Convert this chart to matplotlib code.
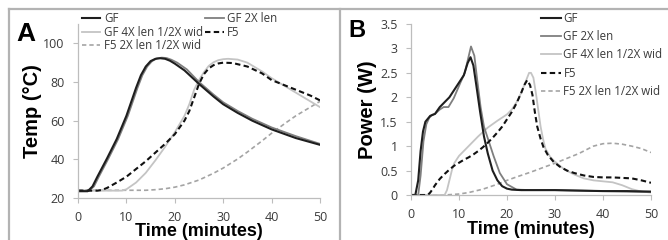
import matplotlib
matplotlib.use("Agg")
import matplotlib.pyplot as plt
from matplotlib import font_manager
from matplotlib.lines import Line2D

# ---------------- data ----------------
labels = ["GF", "GF 2X len", "GF 4X len 1/2X wid", "F5", "F5 2X len 1/2X wid"]

# panel A : temperature (degC) vs time (minutes)
a_gf_t = [0, 2, 3, 4, 6, 8, 10, 12, 13, 14, 15, 16, 17, 18, 19, 20, 22, 25, 28, 30, 33, 36, 40, 45, 50]
a_gf_y = [23.5, 23.5, 26, 31, 40.5, 50.5, 62.5, 77, 83.5, 88, 90.8, 92, 92.3, 92, 91, 89.5, 86, 79, 72.5,
          68.5, 64, 60, 55.5, 51, 47.5]
a_gf2_t = [0, 2.3, 3.3, 4.3, 6.3, 8.3, 10.3, 12.3, 13.3, 14.3, 15.3, 16.3, 17.3, 18.3, 19.3, 20.5, 22.5,
           25, 28, 30, 33, 36, 40, 45, 50]
a_gf2_y = [23.8, 23.8, 26, 31, 40.5, 50.5, 62.5, 77, 83.5, 88, 90.8, 92.2, 92.6, 92.4, 91.5, 90, 86.5,
           80, 73.5, 69.5, 65, 61, 56.5, 52, 48]
a_gf4_t = [0, 9, 10, 12, 14, 16, 18, 20, 22, 23, 24, 25, 26, 27, 28, 29, 30, 31, 33, 35, 38, 40, 42,
           45, 48, 50]
a_gf4_y = [23.8, 23.8, 24.5, 28, 33, 39.5, 46.5, 54, 62.5, 68.5, 76, 81, 85, 88.3, 90.2, 91.3, 91.8, 92,
           91.6, 90, 85.5, 82, 79, 74.5, 70, 67]
a_f5_t = [0, 4, 5, 6, 8, 10, 12, 14, 16, 18, 20, 21, 22, 23, 24, 25, 26, 27, 28, 29, 30, 32, 35, 38,
          40, 43, 45, 48, 50]
a_f5_y = [23.8, 23.8, 24.2, 25.2, 28, 31, 35, 39, 43.5, 48, 53, 56.5, 60, 65, 72, 79, 84, 87, 88.7,
          89.6, 90, 89.8, 88, 84.5, 81, 78, 76, 73, 70.5]
a_f52_t = [0, 14, 16, 18, 20, 22, 25, 28, 30, 33, 35, 38, 40, 43, 45, 48, 50]
a_f52_y = [24, 24, 24.3, 24.8, 25.6, 26.8, 29.3, 32.8, 35.5, 40.2, 43.8, 49.5, 53.5, 59, 62.5, 67, 70]

# panel B : power (W) vs time (minutes)
b_gf_t = [0, 0.9, 1.5, 2, 2.5, 3, 4, 5, 6, 7, 8, 9, 10, 11, 11.8, 12.4, 13, 13.6, 14.4, 15.2, 16, 17,
          18, 19, 20, 21, 23, 26, 30, 35, 40, 45, 50]
b_gf_y = [0, 0, 0.3, 0.9, 1.3, 1.5, 1.62, 1.66, 1.8, 1.9, 2.0, 2.15, 2.3, 2.45, 2.7, 2.82, 2.65, 2.25,
          1.7, 1.2, 0.85, 0.5, 0.3, 0.18, 0.13, 0.11, 0.1, 0.1, 0.1, 0.09, 0.08, 0.08, 0.07]
b_gf2_t = [0, 1.5, 2, 2.6, 3.2, 3.8, 4.4, 5, 6, 6.8, 7.8, 8.9, 10.3, 11.2, 11.8, 12.5, 13.2, 13.8, 14.5,
           15.2, 16.2, 17.2, 18.5, 20, 22, 25, 30, 40, 50]
b_gf2_y = [0, 0, 0.4, 1.1, 1.45, 1.58, 1.64, 1.66, 1.75, 1.8, 1.8, 1.98, 2.3, 2.5, 2.75, 3.04, 2.85,
           2.35, 1.8, 1.4, 1.1, 0.8, 0.45, 0.22, 0.11, 0.1, 0.1, 0.08, 0.06]
b_gf4_t = [0, 7, 7.5, 8, 8.5, 9, 10, 11, 12, 14, 16, 18, 20, 21, 22, 23, 24, 24.6, 25, 25.5, 26, 26.5,
           27, 27.5, 28, 29, 30, 32, 34, 36, 38, 40, 42, 44, 46, 48, 50]
b_gf4_y = [0, 0, 0.1, 0.3, 0.5, 0.65, 0.8, 0.9, 1.0, 1.2, 1.38, 1.52, 1.65, 1.75, 1.9, 2.1, 2.35, 2.5,
           2.5, 2.4, 2.1, 1.75, 1.4, 1.15, 0.95, 0.78, 0.68, 0.52, 0.42, 0.34, 0.3, 0.28, 0.26, 0.2,
           0.12, 0.07, 0.05]
b_f5_t = [0, 3.5, 4, 4.5, 5, 6, 7, 8, 9, 10, 11, 12, 13, 14, 15, 16, 17, 18, 19, 20, 21, 22, 23, 23.6,
          24.2, 24.8, 25.3, 25.8, 26.3, 27, 27.6, 28.5, 29.7, 31, 32.5, 34, 36, 38, 40, 42, 44, 46, 48, 50]
b_f5_y = [0, 0, 0.05, 0.12, 0.2, 0.33, 0.43, 0.52, 0.6, 0.66, 0.72, 0.77, 0.83, 0.9, 0.98, 1.07, 1.17,
          1.28, 1.4, 1.55, 1.7, 1.88, 2.1, 2.25, 2.35, 2.25, 2.05, 1.7, 1.4, 1.15, 0.98, 0.82, 0.68,
          0.58, 0.5, 0.45, 0.4, 0.37, 0.36, 0.36, 0.35, 0.34, 0.3, 0.25]
b_f52_t = [0, 7, 10, 12, 15, 18, 20, 22, 25, 28, 30, 32, 35, 37, 38, 40, 42, 44, 46, 48, 50]
b_f52_y = [0, 0, 0.02, 0.05, 0.12, 0.22, 0.3, 0.37, 0.47, 0.58, 0.65, 0.73, 0.85, 0.95, 1.0, 1.05,
           1.06, 1.04, 1.0, 0.95, 0.87]

x_ticks = [0, 10, 20, 30, 40, 50]
a_y_ticks = [20, 40, 60, 80, 100]
b_y_ticks = [0, 0.5, 1, 1.5, 2, 2.5, 3, 3.5]
b_y_ticklabels = ["0", "0.5", "1", "1.5", "2", "2.5", "3", "3.5"]

# ---------------- fonts ----------------
names = {f.name for f in font_manager.fontManager.ttflist}
if "Liberation Sans Narrow" in names:
    small_font, tick_size, leg_size = "Liberation Sans Narrow", 10.5, 10
else:
    small_font, tick_size, leg_size = "Open Sans", 9, 8.3
bold_font = "Liberation Sans"

plt.rcParams["font.family"] = [small_font, "DejaVu Sans"]

# line styles
styles = [
    dict(color="#1e1e1e", lw=1.5, ls="-"),
    dict(color="#7f7f7f", lw=1.3, ls="-"),
    dict(color="#c4c4c4", lw=1.3, ls="-"),
    dict(color="#111111", lw=1.5, ls=(0, (2.6, 1.6))),
    dict(color="#a4a4a4", lw=1.2, ls=(0, (2.6, 1.8))),
]

W, H = 668, 240
fig = plt.figure(figsize=(W / 100, H / 100), dpi=100)


def px_axes(x0, x1, y_top, y_bot):
    return fig.add_axes([x0 / W, 1 - y_bot / H, (x1 - x0) / W, (y_bot - y_top) / H])


axA = px_axes(78, 320, 24, 198)
axB = px_axes(411, 651, 24, 195)


def style_axes(ax):
    for side in ["top", "right"]:
        ax.spines[side].set_visible(False)
    for side in ["left", "bottom"]:
        ax.spines[side].set_color("#bdbdbd")
        ax.spines[side].set_linewidth(0.9)
    ax.tick_params(axis="both", direction="out", length=3.6, width=0.8, color="#bdbdbd",
                   labelsize=tick_size, labelcolor="#3a3a3a")
    ax.tick_params(axis="y", pad=6)
    ax.tick_params(axis="x", pad=6)
    ax.set_xlim(0, 50)
    ax.set_xticks(x_ticks)
    ax.set_xlabel("Time (minutes)", fontsize=13, fontweight="bold", family=bold_font)


a_series = [(a_gf_t, a_gf_y), (a_gf2_t, a_gf2_y), (a_gf4_t, a_gf4_y), (a_f5_t, a_f5_y), (a_f52_t, a_f52_y)]
b_series = [(b_gf_t, b_gf_y), (b_gf2_t, b_gf2_y), (b_gf4_t, b_gf4_y), (b_f5_t, b_f5_y), (b_f52_t, b_f52_y)]

# draw light series first so the dark ones sit on top
order = [4, 2, 1, 3, 0]

handlesA = {}
for i in order:
    t, y = a_series[i]
    handlesA[i], = axA.plot(t, y, label=labels[i], **styles[i])
handlesB = {}
for i in order:
    t, y = b_series[i]
    handlesB[i], = axB.plot(t, y, label=labels[i], **styles[i])

style_axes(axA)
axA.set_ylim(20, 110)
axA.set_yticks(a_y_ticks)
axA.set_ylabel("Temp (°C)", fontsize=14.5, fontweight="bold", family=bold_font)
axA.yaxis.set_label_coords((42 - 78) / 242, 0.5)
axA.xaxis.set_label_coords(0.5, (198 - 223) / 174)

style_axes(axB)
axB.set_ylim(0, 3.5)
axB.set_yticks(b_y_ticks)
axB.set_yticklabels(b_y_ticklabels)
axB.set_ylabel("Power (W)", fontsize=14.5, fontweight="bold", family=bold_font)
axB.yaxis.set_label_coords((377 - 411) / 240, 0.5)
axB.xaxis.set_label_coords(0.5, (195 - 221) / 171)

# legends
legA = axA.legend([handlesA[i] for i in [0, 2, 4, 1, 3]], [labels[i] for i in [0, 2, 4, 1, 3]],
                  ncol=2, loc="upper left", bbox_to_anchor=(82 / W, 1 - 12 / H),
                  bbox_transform=fig.transFigure, frameon=False, fontsize=leg_size,
                  handlelength=1.6, handletextpad=0.3, labelspacing=0.05, columnspacing=0.2,
                  borderpad=0, borderaxespad=0)
legB = axB.legend([handlesB[i] for i in range(5)], labels,
                  loc="upper left", bbox_to_anchor=(541 / W, 1 - 12 / H),
                  bbox_transform=fig.transFigure, frameon=False, fontsize=leg_size,
                  handlelength=1.7, handletextpad=0.25, labelspacing=0.45,
                  borderpad=0, borderaxespad=0)
for leg in (legA, legB):
    for txt in leg.get_texts():
        txt.set_color("#3a3a3a")

# panel letters
fig.text(16 / W, 1 - 41 / H, "A", fontsize=19, fontweight="bold", family=bold_font, va="baseline")
fig.text(348 / W, 1 - 37 / H, "B", fontsize=17, fontweight="bold", family=bold_font, va="baseline")

# panel frame lines
frame = dict(color="#b3b3b3", lw=1.6, transform=fig.transFigure)
fig.add_artist(Line2D([9 / W, 1], [1 - 9 / H, 1 - 9 / H], **frame))
fig.add_artist(Line2D([9 / W, 9 / W], [0, 1 - 9 / H], **frame))
fig.add_artist(Line2D([340 / W, 340 / W], [0, 1 - 9 / H], **frame))

fig.savefig("out.png", dpi=100)
